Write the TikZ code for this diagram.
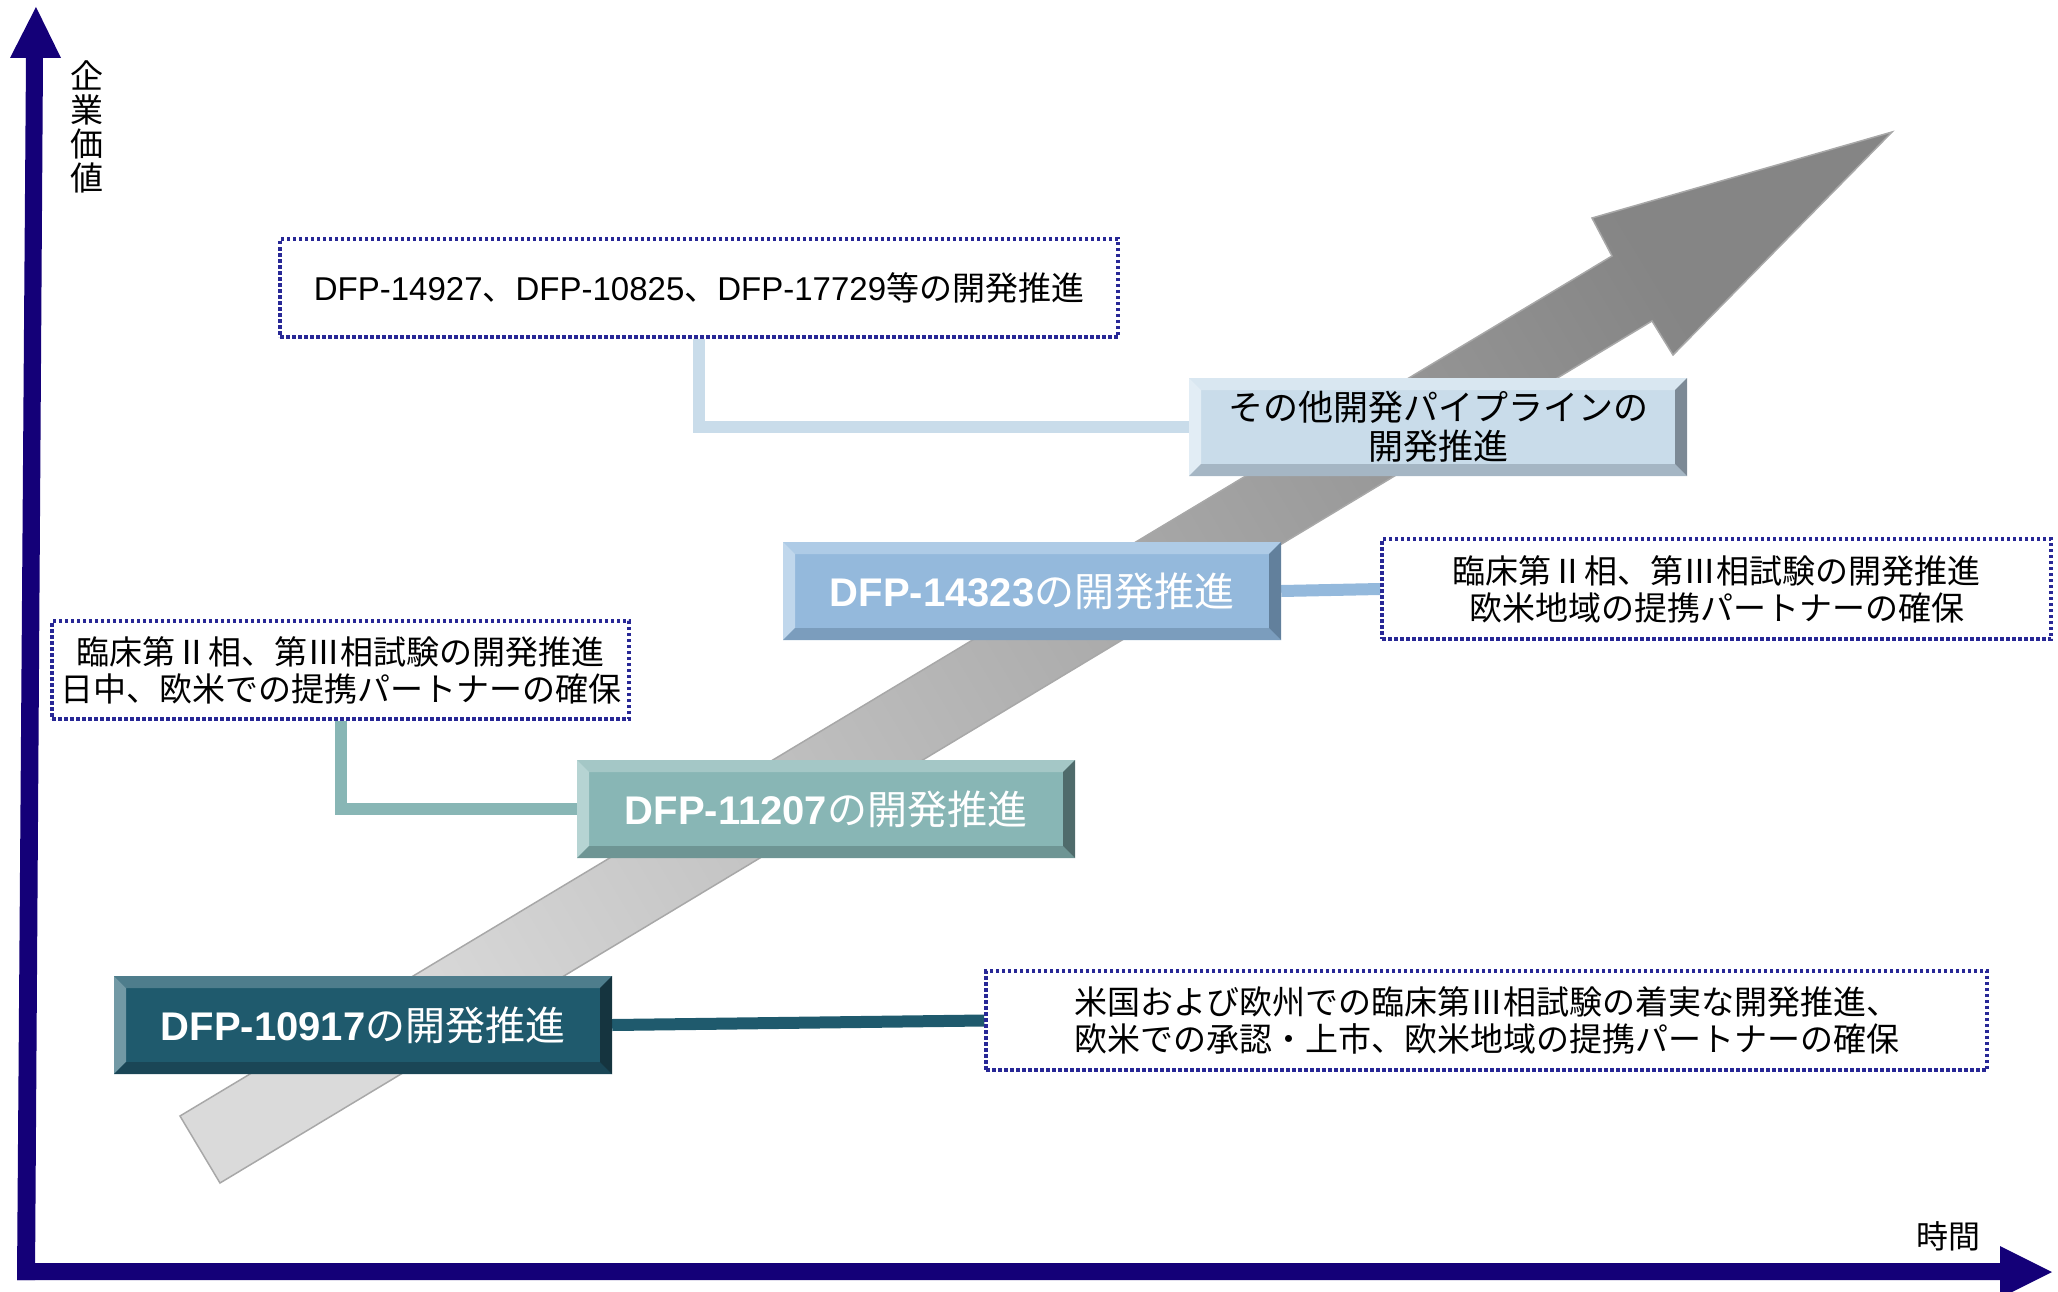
\documentclass[tikz,border=0pt]{standalone}
\usepackage{fontspec}
\setmainfont{Liberation Sans}
\newfontfamily\jp{Noto Sans CJK JP}
\usetikzlibrary{calc}
\pgfdeclarelayer{bg}
\pgfsetlayers{bg,main}
\definecolor{axisblue}{RGB}{20,0,120}
\definecolor{dotblue}{RGB}{40,40,150}
\definecolor{arrowlight}{HTML}{DADADA}
\definecolor{arrowdark}{HTML}{858585}
\definecolor{arrowedge}{HTML}{A8A8A8}
% box 1 (dark teal)
\definecolor{aface}{HTML}{1F5A6D}
\definecolor{atop}{HTML}{4E7D8C}
\definecolor{aleft}{HTML}{7299A5}
\definecolor{abot}{HTML}{1A4656}
\definecolor{aright}{HTML}{15343F}
% box 2 (teal grey)
\definecolor{bface}{HTML}{88B6B5}
\definecolor{btop}{HTML}{A4C7C6}
\definecolor{bleft}{HTML}{B6D4D3}
\definecolor{bbot}{HTML}{6E9594}
\definecolor{bright}{HTML}{4F6B6B}
% box 3 (blue)
\definecolor{cface}{HTML}{94B9DC}
\definecolor{ctop}{HTML}{AECBE6}
\definecolor{cleft}{HTML}{C0D7EC}
\definecolor{cbot}{HTML}{7B9DBD}
\definecolor{cright}{HTML}{62809C}
% box 4 (pale blue)
\definecolor{dface}{HTML}{C9DCEA}
\definecolor{dtop}{HTML}{D9E7F1}
\definecolor{dleft}{HTML}{E2EDF5}
\definecolor{dbot}{HTML}{A5B6C4}
\definecolor{dright}{HTML}{7C8995}
\tikzset{
  bevelbox/.style n args={5}{rectangle, minimum width=498pt, minimum height=98pt,
    inner sep=0pt, fill=#1, path picture={
      \fill[#2] (path picture bounding box.north west) -- (path picture bounding box.north east)
        -- ([shift={(-12pt,-12pt)}]path picture bounding box.north east)
        -- ([shift={(12pt,-12pt)}]path picture bounding box.north west) -- cycle;
      \fill[#3] (path picture bounding box.north west)
        -- ([shift={(12pt,-12pt)}]path picture bounding box.north west)
        -- ([shift={(12pt,12pt)}]path picture bounding box.south west)
        -- (path picture bounding box.south west) -- cycle;
      \fill[#4] (path picture bounding box.south west)
        -- ([shift={(12pt,12pt)}]path picture bounding box.south west)
        -- ([shift={(-12pt,12pt)}]path picture bounding box.south east)
        -- (path picture bounding box.south east) -- cycle;
      \fill[#5] (path picture bounding box.north east) -- (path picture bounding box.south east)
        -- ([shift={(-12pt,12pt)}]path picture bounding box.south east)
        -- ([shift={(-12pt,-12pt)}]path picture bounding box.north east) -- cycle;
    }},
  whitelabel/.style={text=white, font=\fontsize{40}{44}\selectfont},
  dotbox/.style={draw=dotblue, line width=3.5pt, dash pattern=on 3.5pt off 2.5pt,
    inner sep=0pt, align=center, font=\jp\fontsize{33}{37}\selectfont},
  conn/.style={line width=12pt}
}
\begin{document}
\begin{tikzpicture}[x=1pt,y=-1pt]
\useasboundingbox (0,0) rectangle (2058,1292);

% big grey arrow
\begin{pgfonlayer}{bg}
\shade[draw=arrowedge, line width=1.5pt, bottom color=arrowlight, top color=arrowdark, shading angle=-59]
  (180,1116) -- (1612,256) -- (1592,218) -- (1892,132) -- (1673,355) -- (1652,321) -- (220,1183) -- cycle;
\end{pgfonlayer}

% axes
\fill[axisblue] (17,1280) -- (26,58) -- (10,58) -- (36,7) -- (61,58) -- (43,58) -- (35,1280) -- cycle;
\fill[axisblue] (17,1263) -- (2000,1263) -- (2000,1246) -- (2052,1272) -- (2000,1298) -- (2000,1280) -- (17,1280) -- cycle;
\node[font=\jp\fontsize{33}{34}\selectfont, align=center, inner sep=0pt] (ylab) at (87,127) {企\\業\\価\\値};
\node[font=\jp\fontsize{32}{32}\selectfont, inner sep=0pt] (xlab) at (1948,1236) {時間};

% bevel boxes
\node[bevelbox={aface}{atop}{aleft}{abot}{aright}, whitelabel] (b1) at (363,1025)
  {{\bfseries DFP-10917}{\jp の開発推進}};
\node[bevelbox={bface}{btop}{bleft}{bbot}{bright}, whitelabel] (b2) at (826,809)
  {{\bfseries DFP-11207}{\jp の開発推進}};
\node[bevelbox={cface}{ctop}{cleft}{cbot}{cright}, whitelabel] (b3) at (1032,591)
  {{\bfseries DFP-14323}{\jp の開発推進}};
\node[bevelbox={dface}{dtop}{dleft}{dbot}{dright}, align=center, font=\jp\fontsize{35}{39}\selectfont] (b4) at (1438,427)
  {その他開発パイプラインの\\開発推進};

% dotted boxes
\node[dotbox, minimum width=838pt, minimum height=98pt] (d1) at (699,288)
  {\fontspec{Liberation Sans}DFP-14927{\jp 、}DFP-10825{\jp 、}DFP-17729{\jp 等の開発推進}};
\node[dotbox, minimum width=669pt, minimum height=100pt] (d2) at (1716.5,589)
  {臨床第Ⅱ相、第Ⅲ相試験の開発推進\\欧米地域の提携パートナーの確保};
\node[dotbox, minimum width=577pt, minimum height=98pt] (d3) at (340.5,670)
  {臨床第Ⅱ相、第Ⅲ相試験の開発推進\\日中、欧米での提携パートナーの確保};
\node[dotbox, minimum width=1001pt, minimum height=99pt] (d4) at (1486.5,1020.5)
  {米国および欧州での臨床第Ⅲ相試験の着実な開発推進、\\欧米での承認・上市、欧米地域の提携パートナーの確保};

% connectors
\begin{pgfonlayer}{bg}
\draw[conn, draw=dface] (d1.south) |- (b4.west);
\draw[conn, draw=cface] (b3.east) -- (d2.west);
\draw[conn, draw=bface] (d3.south) |- (b2.west);
\draw[conn, draw=aface] (b1.east) -- (d4.west);
\end{pgfonlayer}
\end{tikzpicture}
\end{document}
